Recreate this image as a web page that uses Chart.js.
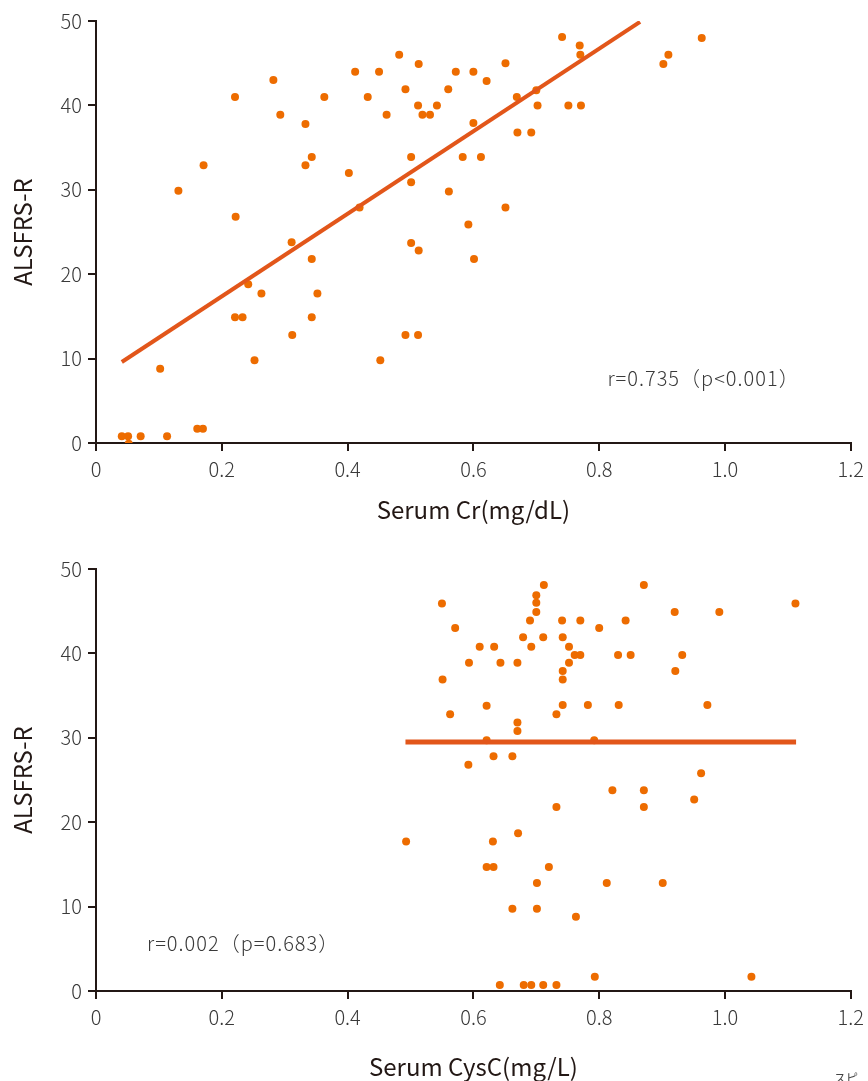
<!DOCTYPE html>
<html lang="ja">
<head>
    <meta charset="UTF-8">
    <title>ALSFRS-R vs Serum Cr / CysC</title>
    <script src="https://cdn.jsdelivr.net/npm/chart.js"></script>
    <style>
        html, body {
            margin: 0;
            padding: 0;
            background: #fff;
            overflow: hidden;
        }
        .page {
            position: relative;
            width: 868px;
            height: 1081px;
            overflow: hidden;
        }
        .chart-box {
            position: absolute;
            left: 0;
            width: 870px;
        }
        #box-cr { top: 0; height: 540px; }
        #box-cysc { top: 548px; height: 533px; }
        .cut-note {
            position: absolute;
            left: 834px;
            top: 1069px;
            font-family: "Noto Sans CJK JP", sans-serif;
            font-size: 12px;
            color: #444;
        }
    </style>
</head>
<body>
<div class="page">
    <div class="chart-box" id="box-cr"><canvas id="chart-cr"></canvas></div>
    <div class="chart-box" id="box-cysc"><canvas id="chart-cysc"></canvas></div>
    <div class="cut-note">スピ</div>
</div>

<script>
    // ---- data ----
    const crX = [0.041, 0.051, 0.052, 0.071, 0.113, 0.161, 0.170, 0.102, 0.131, 0.171,
                 0.221, 0.222, 0.221, 0.233, 0.242, 0.252, 0.263, 0.282, 0.293, 0.311,
                 0.312, 0.333, 0.333, 0.343, 0.343, 0.343, 0.352, 0.363, 0.402, 0.412,
                 0.419, 0.432, 0.450, 0.452, 0.462, 0.482, 0.492, 0.492, 0.501, 0.501,
                 0.501, 0.513, 0.512, 0.513, 0.512, 0.519, 0.531, 0.542, 0.560, 0.561,
                 0.572, 0.583, 0.592, 0.600, 0.600, 0.601, 0.612, 0.621, 0.651, 0.651,
                 0.669, 0.670, 0.692, 0.700, 0.702, 0.741, 0.751, 0.769, 0.770, 0.771,
                 0.902, 0.910, 0.963];
    const crY = [0.8, 0.8, -0.1, 0.8, 0.8, 1.7, 1.7, 8.8, 29.9, 32.9,
                 41.0, 26.8, 14.9, 14.9, 18.8, 9.8, 17.7, 43.0, 38.9, 23.8,
                 12.8, 37.8, 32.9, 33.9, 21.8, 14.9, 17.7, 41.0, 32.0, 44.0,
                 27.9, 41.0, 44.0, 9.8, 38.9, 46.0, 41.9, 12.8, 33.9, 30.9,
                 23.7, 44.9, 40.0, 22.8, 12.8, 38.9, 38.9, 40.0, 41.9, 29.8,
                 44.0, 33.9, 25.9, 44.0, 37.9, 21.8, 33.9, 42.9, 45.0, 27.9,
                 41.0, 36.8, 36.8, 41.8, 40.0, 48.1, 40.0, 47.1, 46.0, 40.0,
                 44.9, 46.0, 48.0];
    const crFitX = [0.041, 0.865];
    const crFitY = [9.6, 49.9];

    const cyscX = [0.493, 0.550, 0.551, 0.563, 0.571, 0.593, 0.592, 0.610, 0.621, 0.621,
                   0.621, 0.633, 0.632, 0.631, 0.632, 0.643, 0.642, 0.662, 0.662, 0.670,
                   0.670, 0.670, 0.671, 0.679, 0.680, 0.690, 0.692, 0.692, 0.700, 0.700,
                   0.700, 0.701, 0.701, 0.712, 0.711, 0.711, 0.720, 0.732, 0.732, 0.732,
                   0.741, 0.742, 0.742, 0.742, 0.742, 0.752, 0.752, 0.761, 0.763, 0.770,
                   0.770, 0.782, 0.792, 0.793, 0.800, 0.812, 0.821, 0.830, 0.831, 0.842,
                   0.850, 0.871, 0.871, 0.871, 0.901, 0.920, 0.921, 0.932, 0.951, 0.962,
                   0.972, 0.991, 1.042, 1.112];
    const cyscY = [17.7, 45.9, 36.9, 32.8, 43.0, 38.9, 26.8, 40.8, 33.8, 29.7,
                   14.7, 40.8, 27.8, 17.7, 14.7, 38.9, 0.7, 27.8, 9.75, 38.9,
                   31.8, 30.8, 18.7, 41.9, 0.7, 43.9, 40.8, 0.7, 46.9, 46.0,
                   44.9, 12.8, 9.75, 48.1, 41.9, 0.7, 14.7, 32.8, 21.8, 0.7,
                   43.9, 41.9, 37.9, 36.9, 33.9, 40.8, 38.9, 39.8, 8.8, 43.9,
                   39.8, 33.9, 29.7, 1.7, 43.0, 12.8, 23.8, 39.8, 33.9, 43.9,
                   39.8, 48.1, 23.8, 21.8, 12.8, 44.9, 37.9, 39.8, 22.7, 25.8,
                   33.9, 44.9, 1.7, 45.9];
    const cyscFitX = [0.492, 1.113];
    const cyscFitY = [29.5, 29.5];

    const xTicks = [0, 0.2, 0.4, 0.6, 0.8, 1.0, 1.2];
    const yTicks = [0, 10, 20, 30, 40, 50];

    const FONT = '"Noto Sans CJK JP", "Noto Sans", sans-serif';
    const INK = '#231815';
    const TEXT = '#3a3a3a';
    const DOT = '#ED6C00';
    const FIT = '#E2561A';

    function toPoints(xs, ys) {
        return xs.map((x, i) => ({ x: x, y: ys[i] }));
    }

    // writes the r / p note inside the plot, placed in data units
    const notePlugin = {
        id: 'corrNote',
        afterDatasetsDraw(chart, args, opts) {
            const ctx = chart.ctx;
            const px = chart.scales.x.getPixelForValue(opts.x);
            const py = chart.scales.y.getPixelForValue(opts.y);
            ctx.save();
            ctx.font = '300 20px ' + FONT;
            ctx.fillStyle = TEXT;
            ctx.textAlign = 'left';
            ctx.textBaseline = 'middle';
            ctx.letterSpacing = '1px';
            ctx.fillText(opts.text, px, py);
            ctx.restore();
        }
    };

    function makeChart(canvasId, xs, ys, fitXs, fitYs, xTitle, note, fitWidth, titlePadBottom, boxHeight) {
        const axisHeight = boxHeight - 443;
        return new Chart(document.getElementById(canvasId), {
            type: 'scatter',
            data: {
                datasets: [
                    {
                        label: 'fit',
                        data: toPoints(fitXs, fitYs),
                        showLine: true,
                        borderColor: FIT,
                        borderWidth: fitWidth,
                        pointRadius: 0,
                        order: 0
                    },
                    {
                        label: 'patients',
                        data: toPoints(xs, ys),
                        backgroundColor: DOT,
                        borderColor: DOT,
                        borderWidth: 0,
                        pointRadius: 4,
                        order: 1
                    }
                ]
            },
            options: {
                responsive: true,
                maintainAspectRatio: false,
                animation: false,
                events: [],
                layout: { padding: { top: 21, right: 14, bottom: 0, left: 0 } },
                plugins: {
                    legend: { display: false },
                    tooltip: { enabled: false },
                    corrNote: note
                },
                scales: {
                    x: {
                        type: 'linear',
                        min: 0,
                        max: 1.2,
                        afterBuildTicks: (scale) => {
                            scale.ticks = xTicks.map(v => ({ value: v }));
                        },
                        afterFit: (scale) => { scale.height = axisHeight; },
                        border: { display: true, color: INK, width: 2 },
                        grid: { drawOnChartArea: false, drawTicks: true, tickLength: 8, color: INK, lineWidth: 2 },
                        ticks: {
                            color: TEXT,
                            padding: 6,
                            font: { family: FONT, size: 20, weight: 300 },
                            callback: (v) => v === 0 ? '0' : v.toFixed(1)
                        },
                        title: {
                            display: true,
                            text: xTitle,
                            color: INK,
                            font: { family: FONT, size: 24, weight: 400 },
                            padding: { top: 0, bottom: titlePadBottom }
                        }
                    },
                    y: {
                        type: 'linear',
                        min: 0,
                        max: 50,
                        afterBuildTicks: (scale) => {
                            scale.ticks = yTicks.map(v => ({ value: v }));
                        },
                        afterFit: (scale) => { scale.width = 96; },
                        border: { display: true, color: INK, width: 2 },
                        grid: { drawOnChartArea: false, drawTicks: true, tickLength: 8, color: INK, lineWidth: 2 },
                        ticks: {
                            color: TEXT,
                            padding: 6,
                            font: { family: FONT, size: 20, weight: 300 }
                        },
                        title: {
                            display: true,
                            text: 'ALSFRS-R',
                            color: INK,
                            font: { family: FONT, size: 24, weight: 400 },
                            padding: { top: 8, bottom: 0 }
                        }
                    }
                }
            },
            plugins: [notePlugin]
        });
    }

    makeChart('chart-cr', crX, crY, crFitX, crFitY, 'Serum Cr(mg/dL)',
        { x: 0.813, y: 7.6, text: 'r=0.735（p<0.001）' }, 4, 16, 540);

    makeChart('chart-cysc', cyscX, cyscY, cyscFitX, cyscFitY, 'Serum CysC(mg/L)',
        { x: 0.081, y: 5.6, text: 'r=0.002（p=0.683）' }, 5, 0, 533);
</script>
</body>
</html>
